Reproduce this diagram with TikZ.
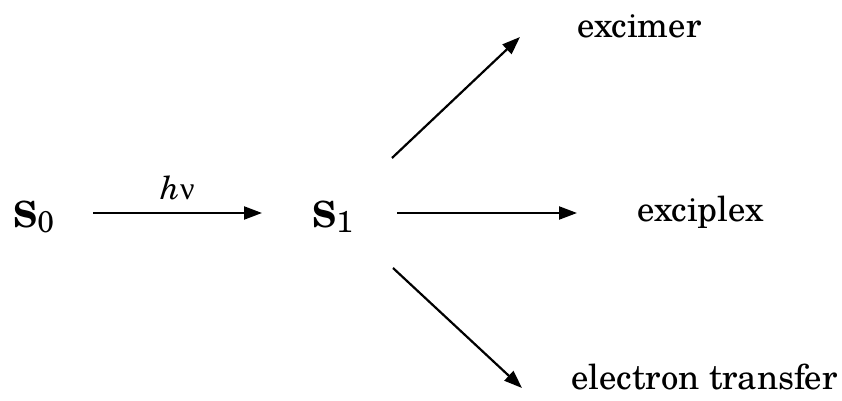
\documentclass[tikz,border=0pt]{standalone}
\usepackage{fontspec}
\setmainfont{texgyreschola}[Extension=.otf,UprightFont=*-regular,ItalicFont=*-italic,BoldFont=*-bold,BoldItalicFont=*-bolditalic]
\newfontfamily\greekfont{Liberation Serif}
\usepackage{tikz}
\usetikzlibrary{positioning,arrows.meta}
\newcommand{\lowidx}[1]{\raisebox{-2.5pt}{\fontsize{15}{15}\selectfont\mdseries #1}}

\begin{document}
\begin{tikzpicture}[x=0.5pt,y=0.5pt,
  state/.style={anchor=base west,inner sep=0pt,font=\fontsize{18}{22}\selectfont\bfseries},
  prod/.style={anchor=base west,inner sep=0pt,font=\fontsize{17.3}{21}\selectfont},
  arr/.style={-{Triangle[length=9pt,width=6.5pt]},line width=1.1pt}]
\useasboundingbox (0,0) rectangle (842,401);
% states and products
\node[state] (S0) at (13,173) {S\lowidx{0}};
\node[state] (S1) at (312,173) {S\lowidx{1}};
\node[prod] (excimer) at (577,363) {excimer};
\node[prod] (exciplex) at (637,179) {exciplex};
\node[prod] (etransfer) at (571,11) {electron transfer};
% excitation
\draw[arr] ([shift={(80,15)}]S0.base west) -- ([shift={(-50,15)}]S1.base west)
  node[midway,above=6pt,inner sep=0pt,font=\fontsize{16}{19}\selectfont] (hnu) {\textit{h}{\greekfont ν}};
% decay channels of S1
\draw[arr] ([shift={(80,70)}]S1.base west) -- ([shift={(-57,1)}]excimer.base west);
\draw[arr] ([shift={(85,15)}]S1.base west) -- ([shift={(-60,9)}]exciplex.base west);
\draw[arr] ([shift={(81,-40)}]S1.base west) -- ([shift={(-49,2)}]etransfer.base west);
\end{tikzpicture}
\end{document}
